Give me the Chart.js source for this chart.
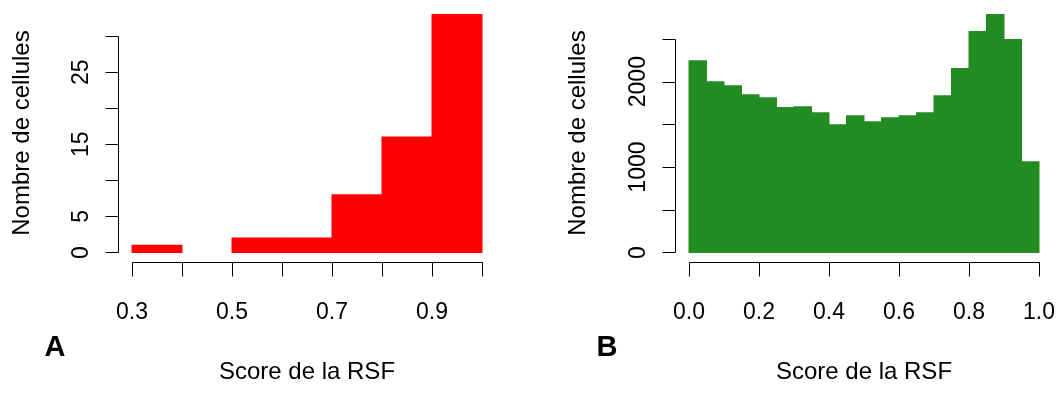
<!DOCTYPE html>
<html>
<head>
<meta charset="utf-8">
<title>Score de la RSF</title>
<script src="https://cdn.jsdelivr.net/npm/chart.js@4.4.1/dist/chart.umd.min.js"></script>
<style>
    html, body { margin: 0; padding: 0; background: #fff; }
    #wrap { position: relative; width: 1056px; height: 394px; }
    canvas { position: absolute; top: 0; }
    #chartA { left: 0; }
    #chartB { left: 528px; }
</style>
</head>
<body>
<div id="wrap">
    <canvas id="chartA" width="528" height="394"></canvas>
    <canvas id="chartB" width="528" height="394"></canvas>
</div>
<script>
// Panel A - histogram edges and counts
const edgesA = [0.3, 0.4, 0.5, 0.6, 0.7, 0.8, 0.9, 1.0];
const countsA = [1, 0, 2, 2, 8, 16, 33];
const xTicksA = [0.3, 0.4, 0.5, 0.6, 0.7, 0.8, 0.9, 1.0];
const xLabelsA = ['0.3', '', '0.5', '', '0.7', '', '0.9', ''];
const yTicksA = [0, 5, 10, 15, 20, 25, 30];
const yLabelsA = ['0', '5', '', '15', '', '25', ''];

// Panel B
const edgesB = [0.00, 0.05, 0.10, 0.15, 0.20, 0.25, 0.30, 0.35, 0.40, 0.45, 0.50,
                0.55, 0.60, 0.65, 0.70, 0.75, 0.80, 0.85, 0.90, 0.95, 1.00];
const countsB = [2246, 2000, 1953, 1848, 1813, 1696, 1707, 1637, 1496, 1602,
                 1532, 1578, 1602, 1637, 1836, 2153, 2586, 2786, 2493, 1063];
const xTicksB = [0.0, 0.2, 0.4, 0.6, 0.8, 1.0];
const xLabelsB = ['0.0', '0.2', '0.4', '0.6', '0.8', '1.0'];
const yTicksB = [0, 500, 1000, 1500, 2000, 2500];
const yLabelsB = ['0', '', '1000', '', '2000', ''];

const xTitle = 'Score de la RSF';
const yTitle = 'Nombre de cellules';

const TICK_FONT = '23px "Liberation Sans", Arial, sans-serif';
const TITLE_FONT = '24px "Liberation Sans", Arial, sans-serif';
const LETTER_FONT = 'bold 29px "Liberation Sans", Arial, sans-serif';

// R-style axes: detached lines spanning first to last tick only
const rAxes = {
    id: 'rAxes',
    afterDraw(chart, args, opts) {
        const ctx = chart.ctx;
        const area = chart.chartArea;
        const xs = chart.scales.x;
        const ys = chart.scales.y;

        ctx.save();
        ctx.strokeStyle = '#000';
        ctx.fillStyle = '#000';
        ctx.lineWidth = 1;

        // y axis
        const ax = Math.round(area.left) + 0.5;
        const yPix = opts.yTicks.map(v => Math.round(ys.getPixelForValue(v)) + 0.5);
        ctx.beginPath();
        ctx.moveTo(ax, yPix[0]);
        ctx.lineTo(ax, yPix[yPix.length - 1]);
        yPix.forEach(py => {
            ctx.moveTo(ax, py);
            ctx.lineTo(ax - 13, py);
        });

        // x axis
        const ay = Math.round(area.bottom) + 0.5;
        const xPix = opts.xTicks.map(v => Math.round(xs.getPixelForValue(v)) + 0.5);
        ctx.moveTo(xPix[0], ay);
        ctx.lineTo(xPix[xPix.length - 1], ay);
        xPix.forEach(px => {
            ctx.moveTo(px, ay);
            ctx.lineTo(px, ay + 14);
        });
        ctx.stroke();

        // tick labels
        ctx.font = TICK_FONT;
        ctx.textAlign = 'center';
        ctx.textBaseline = 'middle';
        opts.xTicks.forEach((v, i) => {
            if (opts.xLabels[i]) ctx.fillText(opts.xLabels[i], xs.getPixelForValue(v), 313);
        });
        opts.yTicks.forEach((v, i) => {
            if (!opts.yLabels[i]) return;
            ctx.save();
            ctx.translate(area.left - 36, ys.getPixelForValue(v));
            ctx.rotate(-Math.PI / 2);
            ctx.fillText(opts.yLabels[i], 0, 0);
            ctx.restore();
        });

        // titles
        ctx.font = TITLE_FONT;
        ctx.fillText(xTitle, (area.left + area.right) / 2, 372);
        ctx.save();
        ctx.translate(opts.yTitleX, 133);
        ctx.rotate(-Math.PI / 2);
        ctx.fillText(yTitle, 0, 0);
        ctx.restore();

        // panel letter
        ctx.font = LETTER_FONT;
        ctx.fillText(opts.letter, opts.letterX, 348);
        ctx.restore();
    }
};

function histData(edges, counts) {
    return counts.map((c, i) => ({ x: (edges[i] + edges[i + 1]) / 2, y: c || null }));
}

function makeHist(id, edges, counts, color, axes, padding) {
    const lo = edges[0];
    const hi = edges[edges.length - 1];
    const span = hi - lo;
    const top = Math.max(...counts);

    return new Chart(document.getElementById(id), {
        type: 'bar',
        data: {
            datasets: [{
                data: histData(edges, counts),
                backgroundColor: color,
                borderWidth: 0,
                inflateAmount: 0.5,   // overlap neighbours so no seams show
                barThickness: 'flex',
                barPercentage: 1,
                categoryPercentage: 1
            }]
        },
        options: {
            responsive: false,
            animation: false,
            devicePixelRatio: 1,
            layout: { padding: padding },
            plugins: {
                legend: { display: false },
                tooltip: { enabled: false },
                rAxes: axes
            },
            scales: {
                x: {
                    type: 'linear',
                    display: false,
                    offset: false,
                    min: lo - 0.04 * span,
                    max: hi + 0.04 * span
                },
                y: {
                    type: 'linear',
                    display: false,
                    min: -0.04 * top,
                    max: 1.04 * top
                }
            }
        },
        plugins: [rAxes]
    });
}

makeHist('chartA', edgesA, countsA, '#FF0000', {
    xTicks: xTicksA, xLabels: xLabelsA,
    yTicks: yTicksA, yLabels: yLabelsA,
    yTitleX: 22, letter: 'A', letterX: 55
}, { left: 118, right: 32, top: 5, bottom: 132 });

makeHist('chartB', edgesB, countsB, '#228B22', {
    xTicks: xTicksB, xLabels: xLabelsB,
    yTicks: yTicksB, yLabels: yLabelsB,
    yTitleX: 50.5, letter: 'B', letterX: 79
}, { left: 147, right: 3, top: 5, bottom: 132 });
</script>
</body>
</html>
